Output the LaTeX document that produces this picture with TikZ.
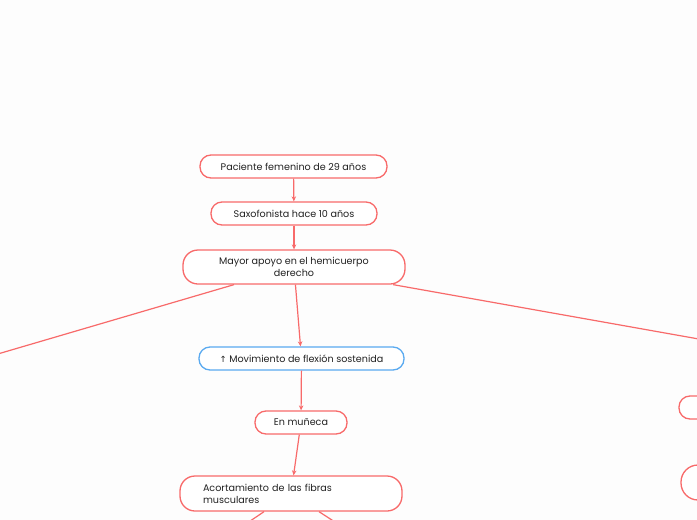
\documentclass[tikz,border=0pt]{standalone}
\usepackage{fontspec}
\setmainfont{Poppins}
\newfontfamily\symfont{DejaVu Sans}
\usetikzlibrary{arrows.meta}
\definecolor{redc}{HTML}{F86A6A}
\definecolor{bluec}{HTML}{5AAAF0}
\definecolor{bgc}{HTML}{FDFDFD}
\definecolor{txt}{HTML}{222222}
\tikzset{
  box/.style={draw=redc, line width=1.3pt, rounded corners=11pt, fill=white, text=txt,
    font=\fontsize{9.6}{12}\selectfont, inner sep=0pt, align=center},
  bluebox/.style={box, draw=bluec},
  conn/.style={draw=redc, line width=1.2pt},
  arr/.style={conn, -{Stealth[length=5pt,width=4.5pt]}},
}
\begin{document}
\begin{tikzpicture}[x=1pt,y=-1pt]
\fill[bgc] (0,0) rectangle (697,520);
\useasboundingbox (0,0) rectangle (697,520);
\clip (0,0) rectangle (697,520);
\node[box, minimum width=187pt, minimum height=23pt] (n1) at (293.5,166.5) {Paciente femenino de 29 años};
\node[box, minimum width=166pt, minimum height=23pt] (n2) at (294,213.5) {Saxofonista hace 10 años};
\node[box, minimum width=222pt, minimum height=34pt, rounded corners=15pt] (n3) at (294,267) {Mayor apoyo en el hemicuerpo\\derecho};
\node[bluebox, minimum width=205pt, minimum height=23pt] (n4) at (301.5,358.5) {{\symfont\fontsize{8.5}{12}\selectfont ↑} Movimiento de flexión sostenida};
\node[box, minimum width=92pt, minimum height=23pt] (n5) at (301,422.5) {En muñeca};
\node[box, minimum width=222pt, minimum height=35pt, rounded corners=15pt, align=left, text width=176pt] (n6) at (291,493.5) {Acortamiento de las fibras\\musculares};
\node[box, minimum width=80pt, minimum height=23pt] (r1) at (719,407.5) {};
\node[box, minimum width=90pt, minimum height=35pt, rounded corners=17pt] (r2) at (726,482.5) {};
\coordinate (L) at (-50,368);
\coordinate (R) at (800,357);
\coordinate (B1) at (213,546);
\coordinate (B2) at (372,546);
\draw[arr] (n1) -- (n2);
\draw[arr] (n2) -- (n3);
\draw[arr] (n3) -- (n4);
\draw[arr] (n4) -- (n5);
\draw[arr] (n5) -- (n6);
\draw[conn] (n3) -- (L);
\draw[conn] (n3) -- (R);
\draw[conn] (n6) -- (B1);
\draw[conn] (n6) -- (B2);
\end{tikzpicture}
\end{document}
